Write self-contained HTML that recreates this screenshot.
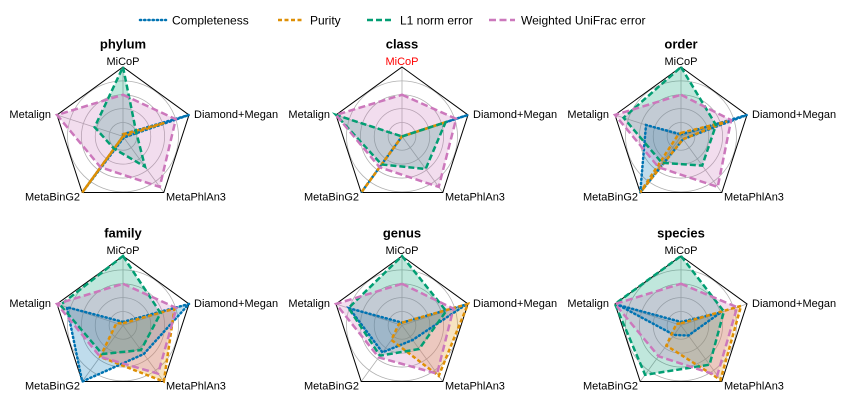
<!DOCTYPE html>
<html><head><meta charset="utf-8">
<style>
html,body{margin:0;padding:0;background:#fff;}
svg{display:block;font-family:"Liberation Sans","DejaVu Sans",sans-serif;}
</style></head>
<body>
<svg id="chart" width="845" height="405" viewBox="0 0 845 405" xmlns="http://www.w3.org/2000/svg"></svg>
<script>
const axesLabels = ["MiCoP","Diamond+Megan","MetaPhlAn3","MetaBinG2","Metalign"];
const panels = ["phylum","class","order","family","genus","species"];
const seriesNames = ["Completeness","Purity","L1 norm error","Weighted UniFrac error"];
const completeness = [
  [0.03,1.0,0.02,1.0,0.0],
  [0.0,1.0,0.0,1.0,0.0],
  [0.03,1.0,0.05,1.0,0.53],
  [0.05,1.0,0.51,1.0,0.85],
  [0.04,0.97,0.26,0.48,0.8],
  [0.05,0.6,0.18,0.17,0.95]
];
const purity = [
  [0.03,0.63,0.0,1.0,0.0],
  [0.0,0.66,0.0,1.0,0.0],
  [0.05,0.7,0.05,1.0,0.05],
  [0.03,0.78,1.0,0.56,0.1],
  [0.04,1.0,0.9,0.26,0.05],
  [0.03,0.91,0.97,0.36,0.07]
];
const l1Error = [
  [1.0,0.2,0.54,0.22,0.43],
  [0.0,0.66,0.58,0.5,1.0],
  [1.0,0.53,0.52,0.47,0.87],
  [1.0,0.57,0.44,0.51,0.95],
  [1.0,0.67,0.42,0.54,0.81],
  [1.0,0.65,0.7,0.88,1.0]
];
const unifracError = [
  [0.6,0.8,0.9,0.55,1.0],
  [0.6,0.82,0.9,0.55,1.0],
  [0.6,0.76,0.9,0.55,1.0],
  [0.6,0.81,0.86,0.56,1.0],
  [0.6,0.78,0.86,0.57,1.0],
  [0.6,0.85,0.89,0.55,1.0]
];
const gridTicks = [0.2,0.4,0.6,0.8];

const NS="http://www.w3.org/2000/svg";
const svg=document.getElementById('chart');
const colors=["#0173b2","#de8f05","#029e73","#cc78bc"];
const dashes=["1.2,3","4,2.5","6,3","7,3.5"];
const caps=["round","butt","butt","butt"];
const allSeries=[completeness,purity,l1Error,unifracError];
const centersX=[123,402,681], centersY=[136.4,325.4], R=69.4;
function mk(tag,attrs,parent){const e=document.createElementNS(NS,tag);for(const k in attrs)e.setAttribute(k,attrs[k]);(parent||svg).appendChild(e);return e;}
function ang(i){return -Math.PI/2+i*2*Math.PI/5;}
function pt(cx,cy,i,v){return [cx+Math.cos(ang(i))*R*v, cy+Math.sin(ang(i))*R*v];}

// legend
const legX=[140,278,367,489], legTX=[172,310,400,521];
seriesNames.forEach((n,s)=>{
  const g=mk('g',{});
  
  
  mk('line',{x1:legX[s],y1:20,x2:legX[s]+26,y2:20,stroke:colors[s],'stroke-width':2.5,'stroke-dasharray':dashes[s],'stroke-linecap':caps[s]},g);
  const t=mk('text',{x:legTX[s],y:24.5,'font-size':12,fill:'#000'},g);t.textContent=n;
});

panels.forEach((p,k)=>{
  const cx=centersX[k%3], cy=centersY[Math.floor(k/3)];
  const g=mk('g',{});
  
  
  gridTicks.forEach(r=>mk('circle',{cx,cy,r:r*R,fill:'none',stroke:'#b0b0b0','stroke-width':0.8},g));
  for(let i=0;i<5;i++){const q=pt(cx,cy,i,1);mk('line',{x1:cx,y1:cy,x2:q[0],y2:q[1],stroke:'#b0b0b0','stroke-width':0.8},g);}
  const outer=[0,1,2,3,4].map(i=>pt(cx,cy,i,1).join(',')).join(' ');
  mk('polygon',{points:outer,fill:'none',stroke:'#000','stroke-width':1},g);
  allSeries.forEach((arr,s)=>{
    const pts=arr[k].map((v,i)=>pt(cx,cy,i,v).join(',')).join(' ');
    const f=mk('polygon',{points:pts,fill:colors[s],'fill-opacity':0.25,stroke:'none'},g);
    
    
  });
  allSeries.forEach((arr,s)=>{
    const pts=arr[k].map((v,i)=>pt(cx,cy,i,v).join(',')).join(' ');
    const l=mk('polygon',{points:pts,fill:'none',stroke:colors[s],'stroke-width':2.5,'stroke-dasharray':dashes[s],'stroke-linecap':caps[s]},g);
    
    
  });
  const t=mk('text',{x:cx,y:cy-88,'font-size':13,'font-weight':'bold','text-anchor':'middle'},g);t.textContent=p;
  
  
  const lp=[[cx,cy-71.5,'middle'],[cx+71,cy-18.5,'start'],[cx+43,cy+64,'start'],[cx-43,cy+64,'end'],[cx-72,cy-18.5,'end']];
  axesLabels.forEach((a,i)=>{
    const tl=mk('text',{x:lp[i][0],y:lp[i][1],'font-size':11,'text-anchor':lp[i][2],fill:(p==='class'&&i===0)?'#ff0000':'#000'},g);
    tl.textContent=a;
    
    
  });
});
</script>
</body></html>
